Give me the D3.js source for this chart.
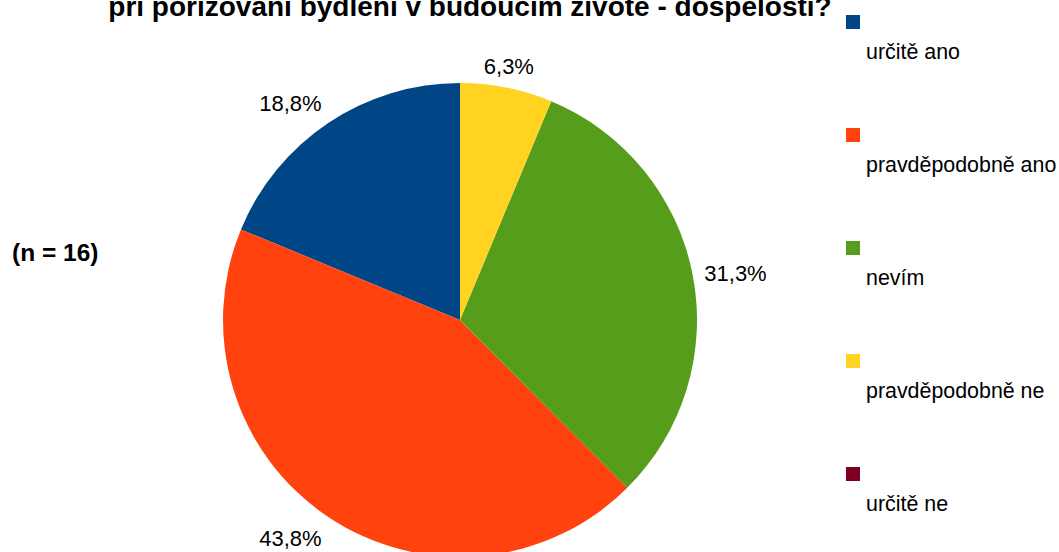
<!DOCTYPE html>
<html>
<head>
<meta charset="utf-8">
<script src="https://cdn.jsdelivr.net/npm/d3@7"></script>
<style>
  html, body { margin: 0; padding: 0; background: #fff; }
  svg { display: block; font-family: "Liberation Sans", Arial, sans-serif; }
</style>
</head>
<body>
<svg id="chart" width="1059" height="552"></svg>
<script>
const categories = ["určitě ano", "pravděpodobně ano", "nevím", "pravděpodobně ne", "určitě ne"];
const percents = [18.8, 43.8, 31.3, 6.3, 0];
const colors = ["#004586", "#ff420e", "#579d1c", "#ffd320", "#7e0021"];
const titleLine = "při pořizování bydlení v budoucím životě - dospělosti?";
const noteText = "(n = 16)";

const svg = d3.select("#chart");
const W = 1059, H = 552;
svg.append("rect").attr("width", W).attr("height", H).attr("fill", "#fff");

// Title (only its last line is visible in the frame, as in the reference)
svg.append("text")
  .attr("x", 470).attr("y", 16)
  .attr("text-anchor", "middle")
  .attr("font-weight", "bold").attr("font-size", 28)
  .attr("fill", "#000")
  .text(titleLine);

svg.append("text")
  .attr("x", 12).attr("y", 261)
  .attr("font-weight", "bold").attr("font-size", 24.5)
  .attr("fill", "#000")
  .text(noteText);

const cx = 460, cy = 320, R = 237;
const data = categories.map((c, i) => ({ cat: c, value: percents[i], color: colors[i] }));
const pie = d3.pie().sort(null).value(d => d.value).startAngle(0).endAngle(-2 * Math.PI);
const arcs = pie(data);
const arc = d3.arc().innerRadius(0).outerRadius(R);

const g = svg.append("g").attr("transform", `translate(${cx},${cy})`);
g.selectAll("path").data(arcs.filter(a => a.data.value > 0)).join("path")
  .attr("d", arc)
  .attr("fill", d => d.data.color);

const labelR = R + 12;
const fmt = v => v.toFixed(1).replace(".", ",") + "%";
arcs.filter(a => a.data.value > 0).forEach(a => {
  const mid = (a.startAngle + a.endAngle) / 2;
  const s = Math.sin(mid), c = Math.cos(mid);
  const px = labelR * s, py = -labelR * c;
  let anchor = "middle";
  if (s > 0.3) anchor = "start"; else if (s < -0.3) anchor = "end";
  let dy;
  if (c > 0.3) dy = -2; else if (c < -0.3) dy = 19; else dy = 9;
  g.append("text")
    .attr("x", px).attr("y", py + dy)
    .attr("text-anchor", anchor)
    .attr("font-size", 22)
    .attr("fill", "#000")
    .text(fmt(a.data.value));
});

// Legend
const legend = svg.append("g");
const ly = d3.scaleLinear().domain([0, 1]).range([15, 128]);
categories.forEach((cat, i) => {
  legend.append("rect")
    .attr("x", 846).attr("y", ly(i))
    .attr("width", 14).attr("height", 14)
    .attr("fill", colors[i]);
  legend.append("text")
    .attr("x", 866).attr("y", ly(i) + 44)
    .attr("font-size", 21.4)
    .attr("fill", "#000")
    .text(cat);
});
</script>
</body>
</html>
